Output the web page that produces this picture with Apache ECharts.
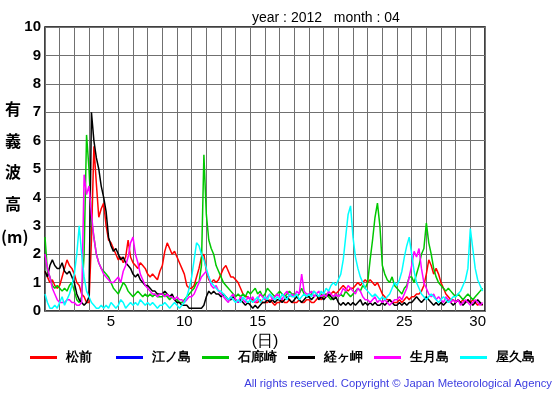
<!DOCTYPE html>
<html><head><meta charset="utf-8">
<script src="https://cdn.jsdelivr.net/npm/echarts@6/dist/echarts.min.js"></script>
<style>html,body{margin:0;padding:0;background:#fff}#c{width:555px;height:395px}</style>
</head><body><div id="c"></div><script>
// significant wave height (m), April 2012, one value every 4 hours from Apr 1 00:00
const stepHours = 4;
const stationNames = ['松前','江ノ島','石廊崎','経ヶ岬','生月島','屋久島'];
const stationColors = ['#ff0000','#0000ff','#00c800','#000000','#ff00ff','#00ffff'];
const matsumae = [
1.4,1.2,1.0,1.1,0.9,0.8, 0.9,1.2,1.5,1.8,1.6,1.5, 1.3,1.0,0.9,0.6,0.5,0.3, 0.3,2.5,5.8,4.5,3.3,3.6,
3.8,3.0,2.5,2.4,2.2,2.0, 1.8,1.9,1.7,1.9,2.5,1.9, 1.7,1.6,1.5,1.7,1.6,1.5, 1.3,1.2,1.3,1.2,1.1,1.4,
1.6,2.1,2.4,2.2,2.0,2.1, 1.9,1.7,1.5,1.3,0.9,0.8, 0.8,0.9,1.2,1.5,1.9,2.0, 1.4,1.1,1.0,1.1,1.0,1.1,
1.3,1.5,1.6,1.4,1.2,1.2, 1.1,1.0,0.8,0.6,0.5,0.5, 0.4,0.4,0.3,0.3,0.4,0.3, 0.3,0.3,0.4,0.3,0.2,0.3,
0.3,0.4,0.3,0.3,0.4,0.3, 0.3,0.3,0.4,0.3,0.3,0.4, 0.4,0.3,0.3,0.4,0.5,0.4, 0.5,0.6,0.5,0.6,0.7,0.6,
0.7,0.8,0.9,0.8,0.7,0.8, 0.8,0.9,1.0,0.9,1.0,1.1, 1.0,1.1,1.0,0.9,1.0,0.8, 0.6,0.5,0.4,0.4,0.3,0.3,
0.3,0.4,0.3,0.4,0.5,0.4, 0.5,0.5,0.6,0.6,0.7,0.9, 1.3,1.8,1.6,1.3,1.5,1.3, 1.0,0.8,0.6,0.5,0.4,0.4,
0.3,0.4,0.3,0.4,0.3,0.4, 0.3,0.4,0.3,0.2,0.3,0.2];
const enoshima = [];
const irozaki = [
2.6,1.4,1.2,0.9,0.8,0.9, 0.8,0.7,0.8,0.7,0.9,1.0, 0.7,0.4,0.3,0.5,2.0,6.2, 5.0,3.2,2.6,2.0,1.7,1.5,
1.4,1.3,1.2,1.0,0.8,0.7, 0.6,0.8,1.0,0.9,0.7,0.6, 0.5,0.6,0.7,0.6,0.5,0.6, 0.5,0.6,0.5,0.6,0.5,0.5,
0.5,0.6,0.5,0.4,0.5,0.4, 0.4,0.3,0.3,0.4,0.5,0.6, 0.7,0.8,1.0,1.0,1.6,5.5, 3.4,2.5,2.2,2.0,1.6,1.4,
1.2,1.0,0.9,0.8,0.7,0.6, 0.5,0.6,0.5,0.6,0.5,0.7, 0.6,0.7,0.8,0.6,0.7,0.5, 0.6,0.8,0.7,0.6,0.5,0.6,
0.7,0.6,0.5,0.6,0.7,0.6, 0.6,0.5,0.6,0.8,0.6,0.5, 0.5,0.6,0.7,0.6,0.5,0.6, 0.5,0.6,0.5,0.4,0.5,0.6,
0.5,0.6,0.5,0.7,0.6,0.5, 0.6,0.7,0.8,0.7,0.9,0.8, 1.0,1.8,2.5,3.3,3.8,3.0, 1.6,1.3,1.1,1.0,1.2,0.9,
0.8,0.7,0.6,0.8,0.9,1.2, 1.2,1.0,1.3,1.6,2.0,2.2, 3.1,2.4,2.0,1.5,1.2,1.0, 0.9,0.8,0.7,0.8,0.7,0.6,
0.5,0.6,0.5,0.4,0.5,0.6, 0.5,0.4,0.5,0.6,0.7,0.8];
const kyogamisaki = [
1.4,1.2,1.6,1.8,1.6,1.5, 1.5,1.7,1.4,1.3,1.4,1.2, 1.0,0.6,0.4,0.3,0.2,0.3, 0.5,7.0,6.0,5.4,5.0,4.4,
4.0,3.5,2.6,2.3,2.1,2.2, 2.0,1.8,1.9,1.7,1.6,1.5, 1.3,1.2,1.3,1.1,1.0,0.9, 0.9,0.8,0.7,0.7,0.6,0.6,
0.6,0.7,0.6,0.5,0.6,0.4, 0.3,0.3,0.2,0.2,0.2,0.1, 0.1,0.1,0.1,0.1,0.1,0.2, 0.5,0.7,0.6,0.7,0.6,0.6,
0.5,0.6,0.5,0.4,0.4,0.5, 0.4,0.3,0.4,0.3,0.2,0.3, 0.2,0.1,0.2,0.1,0.2,0.3, 0.3,0.4,0.3,0.4,0.3,0.4,
0.4,0.3,0.4,0.5,0.4,0.3, 0.4,0.5,0.4,0.3,0.4,0.5, 0.5,0.4,0.5,0.6,0.4,0.5, 0.4,0.5,0.6,0.5,0.4,0.5,
0.3,0.2,0.3,0.2,0.3,0.2, 0.3,0.2,0.3,0.4,0.2,0.3, 0.2,0.3,0.2,0.3,0.2,0.2, 0.3,0.2,0.3,0.4,0.3,0.2,
0.2,0.3,0.2,0.3,0.2,0.3, 0.3,0.4,0.5,0.4,0.3,0.4, 0.5,0.4,0.3,0.2,0.3,0.2, 0.3,0.2,0.3,0.4,0.3,0.2,
0.3,0.4,0.3,0.2,0.3,0.4, 0.3,0.2,0.3,0.4,0.3,0.2];
const ikitsuki = [
2.0,1.5,1.2,0.8,0.6,0.4, 0.3,0.3,0.3,0.4,0.4,0.3, 0.3,0.2,0.2,0.3,4.8,4.1, 4.4,3.4,2.6,2.0,1.7,1.5,
1.3,1.2,1.1,1.0,1.0,1.1, 1.2,1.0,1.4,1.6,1.9,2.4, 2.6,2.0,1.7,1.3,1.1,0.9, 0.8,0.7,0.6,0.6,0.5,0.6,
0.6,0.5,0.6,0.5,0.5,0.4, 0.5,0.4,0.4,0.3,0.4,0.5, 0.5,0.6,0.8,1.0,1.2,1.3, 1.4,1.2,0.9,0.8,0.9,0.7,
0.6,0.5,0.4,0.3,0.5,0.6, 0.4,0.3,0.5,0.4,0.3,0.5, 0.4,0.5,0.3,0.4,0.6,0.5, 0.4,0.5,0.6,0.4,0.5,0.6,
0.5,0.4,0.6,0.7,0.5,0.6, 0.5,0.7,0.6,1.3,0.7,0.6, 0.6,0.7,0.5,0.6,0.7,0.5, 0.6,0.5,0.7,0.6,0.5,0.6,
0.5,0.6,0.8,0.7,0.9,0.8, 0.7,0.6,0.8,0.7,0.5,0.4, 0.4,0.3,0.4,0.5,0.3,0.4, 0.3,0.4,0.3,0.2,0.3,0.4,
0.4,0.5,0.4,0.6,0.8,1.2, 1.6,2.1,1.9,2.2,1.5,1.0, 0.8,0.6,0.5,0.6,0.4,0.5, 0.4,0.3,0.5,0.4,0.3,0.4,
0.3,0.4,0.2,0.3,0.4,0.3, 0.2,0.3,0.4,0.3,0.2,0.3];
const yakushima = [
0.6,0.3,0.1,0.1,0.2,0.1, 0.3,0.5,0.2,0.4,0.6,0.9, 1.3,2.0,3.0,2.0,1.2,0.7, 0.5,0.3,0.2,0.1,0.1,0.2,
0.1,0.2,0.1,0.3,0.2,0.1, 0.2,0.4,0.3,0.1,0.2,0.3, 0.2,0.3,0.2,0.4,0.3,0.2, 0.3,0.2,0.3,0.2,0.1,0.2,
0.2,0.3,0.2,0.1,0.2,0.3, 0.2,0.1,0.2,0.3,0.5,0.8, 1.2,1.8,2.4,2.3,2.0,1.8, 1.5,1.2,1.0,0.9,0.8,0.7,
0.7,0.6,0.5,0.4,0.5,0.4, 0.3,0.4,0.3,0.5,0.4,0.3, 0.4,0.3,0.4,0.5,0.3,0.4, 0.5,0.4,0.6,0.5,0.4,0.5,
0.4,0.6,0.5,0.4,0.6,0.5, 0.5,0.6,0.4,0.5,0.6,0.5, 0.6,0.5,0.7,0.6,0.5,0.7, 0.6,0.8,0.7,0.9,1.0,0.9,
1.1,1.3,1.8,2.6,3.4,3.7, 2.6,1.9,1.5,1.2,1.0,0.8, 0.7,0.6,0.5,0.6,0.5,0.4, 0.5,0.4,0.5,0.6,0.8,1.0,
0.9,1.1,1.4,1.9,2.3,2.6, 2.0,1.4,1.0,0.8,0.6,0.5, 0.4,0.5,0.6,0.5,0.4,0.3, 0.4,0.5,0.4,0.3,0.4,0.5,
0.5,0.6,0.7,0.9,1.1,1.5, 2.9,2.2,1.5,1.1,0.9,0.7];
const stationData = [matsumae, enoshima, irozaki, kyogamisaki, ikitsuki, yakushima];
const xTickLabels = [5,10,15,20,25,30];
const yTickLabels = [0,1,2,3,4,5,6,7,8,9,10];
const yTitleChars = ['有','義','波','高','(m)'];

const chart = echarts.init(document.getElementById('c'), null, {renderer:'canvas'});
const FONT = 'Liberation Sans, Arial, sans-serif';
const series = stationData.map((vals, k) => ({
  name: stationNames[k], type: 'line', xAxisIndex: 0, yAxisIndex: 0,
  data: vals.map((v, i) => [i * stepHours / 24, v]),
  showSymbol: false, symbol: 'none', color: stationColors[k],
  lineStyle: {width: 1.5, color: stationColors[k]}, animation: false
}));

// one legend block per station, evenly spaced like the original
const legendLeft = 30, legendPitch = 86;
const legends = stationNames.map((name, k) => ({
  data: [name], left: legendLeft + k * legendPitch, top: 351, padding: 0,
  icon: 'rect', itemWidth: 27, itemHeight: 3, selectedMode: false,
  textStyle: {fontFamily: FONT, fontSize: 13, fontWeight: 'bold', color: '#000', padding: [0,0,0,4]}
}));

chart.setOption({
  animation: false,
  backgroundColor: '#fff',
  title: {text: 'year : 2012   month : 04', left: 247, top: 6,
    textStyle: {fontFamily: FONT, fontSize: 14, fontWeight: 'normal', color: '#000'}},
  grid: {left: 45, right: 70, top: 27, bottom: 84, show: true, borderColor: '#000', borderWidth: 1.5, backgroundColor: 'transparent', containLabel: false},
  legend: legends,
  xAxis: [
    {type: 'value', min: 0, max: 30, interval: 1, position: 'bottom',
     axisLine: {show: false}, axisTick: {show: false}, axisLabel: {show: false},
     splitLine: {show: true, lineStyle: {color: '#707070', width: 1}}},
    {type: 'value', min: 0.5, max: 30.5, interval: 0.5, position: 'bottom',
     axisLine: {show: false}, axisTick: {show: false}, splitLine: {show: false},
     axisLabel: {show: true, margin: 3, fontFamily: FONT, fontSize: 15, color: '#000',
       formatter: v => { const r = Math.round(v); return (Math.abs(v - r) < 1e-6 && xTickLabels.includes(r)) ? String(r) : ''; }},
     name: '(日)', nameLocation: 'middle', nameGap: 20,
     nameTextStyle: {fontFamily: FONT, fontSize: 16, color: '#000'}}
  ],
  yAxis: {type: 'value', min: 0, max: 10, interval: 1,
    axisLine: {show: false}, axisTick: {show: false},
    axisLabel: {margin: 4, fontFamily: FONT, fontSize: 15, fontWeight: 'bold', color: '#000',
      formatter: v => yTickLabels.includes(v) ? String(v) : ''},
    splitLine: {show: true, lineStyle: {color: '#707070', width: 1}}},
  graphic: [
    ...yTitleChars.map((ch, i) => ({type: 'text', left: i < 4 ? 5 : 1, top: 101 + i * 31.5 + (i === 4 ? 2 : 0),
      style: {text: ch, font: 'bold 16px "Noto Sans CJK JP", sans-serif', fill: '#000'}})),
    {type: 'text', right: 3, top: 378,
     style: {text: 'All rights reserved. Copyright © Japan Meteorological Agency', font: '11.3px "Liberation Sans", Arial, sans-serif', fill: '#3c3ce0'}}
  ],
  series
});
</script></body></html>
